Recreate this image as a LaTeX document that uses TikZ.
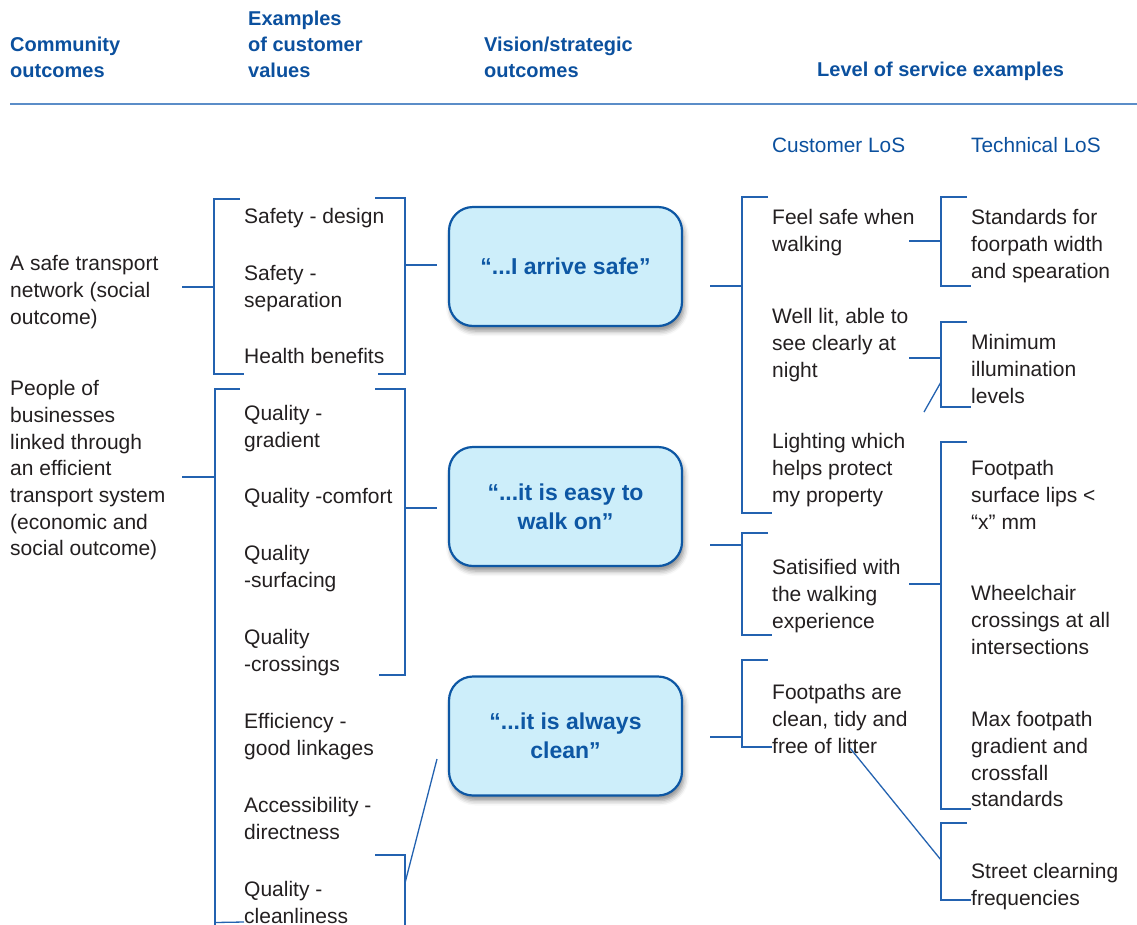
\documentclass[tikz,border=0pt]{standalone}
\usepackage{fontspec}
\setmainfont{Liberation Sans}
\usetikzlibrary{shadows.blur}
\definecolor{txt}{HTML}{231F20}
\definecolor{hblue}{HTML}{0B509E}
\definecolor{lblue}{HTML}{2362B0}
\definecolor{rblue}{HTML}{5B8DC8}
\definecolor{bblue}{HTML}{0D57A4}
\definecolor{bfill}{HTML}{CDEEFA}
\newcommand\topstrut{\rule{0pt}{18pt}}
\tikzset{
  lbl/.style={anchor=north west, inner sep=0pt, align=left, text=txt,
    font=\fontsize{21}{26.7}\selectfont},
  hdr/.style={anchor=north west, inner sep=0pt, align=left, text=hblue,
    font=\bfseries\fontsize{20}{26}\selectfont},
  los/.style={anchor=north west, inner sep=0pt, text=hblue,
    font=\fontsize{20.8}{26}\selectfont},
  vision/.style={rectangle, rounded corners=24pt, draw=bblue, line width=2.2pt,
    fill=bfill, minimum width=233pt, minimum height=119pt, align=center,
    text=bblue, font=\bfseries\fontsize{23}{29}\selectfont,
    blur shadow={shadow xshift=2pt, shadow yshift=-5pt,
      shadow blur radius=5pt, shadow opacity=45}},
  link/.style={draw=lblue, line width=1.3pt},
}
\begin{document}
\begin{tikzpicture}[x=1pt, y=-1pt]
\useasboundingbox (0,0) rectangle (1137,924);

% column headings
\node[hdr] (hcom) at (10,33) {\topstrut Community\\outcomes};
\node[hdr] (hval) at (248,7) {\topstrut Examples\\of customer\\values};
\node[hdr] (hvis) at (484,33) {\topstrut Vision/strategic\\outcomes};
\node[hdr] (hlos) at (817,58) {\topstrut Level of service examples};
\draw[draw=rblue, line width=2pt] (10,104) -- (1137,104);
\node[los] (hcust) at (772,134.5) {\topstrut Customer LoS};
\node[los] (htech) at (971,134.5) {\topstrut Technical LoS};

% community outcomes
\node[lbl] (c1) at (10,252.5) {\topstrut A safe transport\\network (social\\outcome)};
\node[lbl] (c2) at (10,377.5) {\topstrut People of\\businesses\\linked through\\an efficient\\transport system\\(economic and\\social outcome)};

% customer values
\node[lbl] (v1) at (244,205.5) {\topstrut Safety - design};
\node[lbl] (v2) at (244,262.5) {\topstrut Safety -\\separation};
\node[lbl] (v3) at (244,345.5) {\topstrut Health benefits};
\node[lbl] (v4) at (244,402.5) {\topstrut Quality -\\gradient};
\node[lbl] (v5) at (244,485.5) {\topstrut Quality -comfort};
\node[lbl] (v6) at (244,542.5) {\topstrut Quality\\-surfacing};
\node[lbl] (v7) at (244,626.5) {\topstrut Quality\\-crossings};
\node[lbl] (v8) at (244,710.5) {\topstrut Efficiency -\\good linkages};
\node[lbl] (v9) at (244,794.5) {\topstrut Accessibility -\\directness};
\node[lbl] (v10) at (244,878.5) {\topstrut Quality -\\cleanliness};

% vision boxes
\node[vision] (b1) at (565.5,266.5) {“...I arrive safe”};
\node[vision] (b2) at (565.5,506.5) {“...it is easy to\\walk on”};
\node[vision] (b3) at (565.5,736) {“...it is always\\clean”};

% customer levels of service
\node[lbl] (k1) at (772,206.5) {\topstrut Feel safe when\\walking};
\node[lbl] (k2) at (772,305.5) {\topstrut Well lit, able to\\see clearly at\\night};
\node[lbl] (k3) at (772,430.5) {\topstrut Lighting which\\helps protect\\my property};
\node[lbl] (k4) at (772,556.5) {\topstrut Satisified with\\the walking\\experience};
\node[lbl] (k5) at (772,681.5) {\topstrut Footpaths are\\clean, tidy and\\free of litter};

% technical levels of service
\node[lbl] (t1) at (971,206.5) {\topstrut Standards for\\foorpath width\\and spearation};
\node[lbl] (t2) at (971,331.5) {\topstrut Minimum\\illumination\\levels};
\node[lbl] (t3) at (971,457.5) {\topstrut Footpath\\surface lips <\\“x” mm};
\node[lbl] (t4) at (971,582.5) {\topstrut Wheelchair\\crossings at all\\intersections};
\node[lbl] (t5) at (971,708.5) {\topstrut Max footpath\\gradient and\\crossfall\\standards};
\node[lbl] (t6) at (971,860.5) {\topstrut Street clearning\\frequencies};

% brackets: community outcomes to customer values
\draw[link] (182,287) -- (214,287);
\draw[link] (240,199) -- (214,199) -- (214,374) -- (244,374);
\draw[link] (182,477) -- (215,477);
\draw[link] (240,389) -- (215,389) -- (215,926);
\draw[link] (215,922.5) -- (244,922);

% brackets: customer values to vision boxes
\draw[link] (375,198) -- (405,198) -- (405,374) -- (378,374);
\draw[link] (405,265) -- (437,265);
\draw[link] (375,389) -- (405,389) -- (405,675) -- (379,675);
\draw[link] (405,508) -- (437,508);
\draw[link] (375,855) -- (405,855) -- (405,926);
\draw[link] (405,883) -- (437,759);

% brackets: vision boxes to customer LoS
\draw[link] (710,286) -- (742,286);
\draw[link] (768,197) -- (742,197) -- (742,513) -- (772,513);
\draw[link] (710,545) -- (742,545);
\draw[link] (768,533) -- (742,533) -- (742,635) -- (772,635);
\draw[link] (710,737) -- (742,737);
\draw[link] (768,660) -- (742,660) -- (742,747) -- (772,747);

% brackets: customer LoS to technical LoS
\draw[link] (909,241) -- (941,241);
\draw[link] (967,197) -- (941,197) -- (941,286) -- (971,286);
\draw[link] (909,358) -- (941,358);
\draw[link] (967,322) -- (941,322) -- (941,407) -- (971,407);
\draw[link] (941,382) -- (924,412);
\draw[link] (909,584) -- (941,584);
\draw[link] (967,442) -- (941,442) -- (941,809) -- (971,809);
\draw[link] (967,823) -- (941,823) -- (941,900) -- (971,900);
\draw[link] (850,748) -- (941,860);
\end{tikzpicture}
\end{document}
